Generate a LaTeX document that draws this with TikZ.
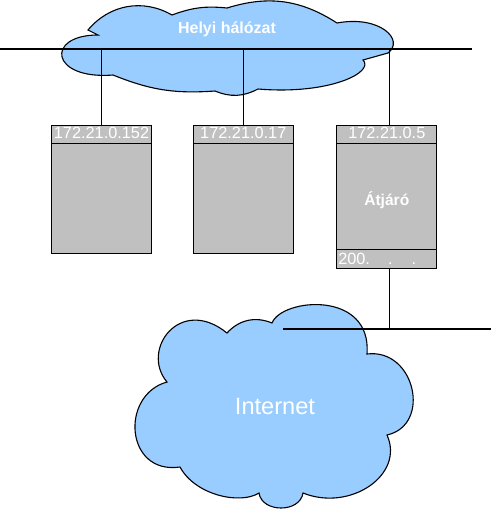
\documentclass[tikz,border=0pt]{standalone}
\usepackage{fontspec}
\setmainfont{Liberation Sans}
\usetikzlibrary{calc}
\definecolor{cloudblue}{HTML}{99CCFF}
\definecolor{boxgray}{HTML}{C0C0C0}
\begin{document}
\begin{tikzpicture}[x=1pt, y=-1pt, line width=1.1pt,
    host/.style = {draw, fill=boxgray, minimum width=100pt, inner sep=0pt},
    ip/.style = {text=white, inner sep=0pt, font=\fontsize{16.3}{17}\selectfont},
    netcloud/.style = {draw, fill=cloudblue}]
  \useasboundingbox (0,0) rectangle (494,512);
  % local network
  \draw[netcloud] (88,30) to[bend left=40] (172,15) to[bend left=13] (227,8)
    to[bend left=25] (337,23) .. controls (380,15) and (405,40) .. (388,53)
    -- (363,60) .. controls (375,72) and (330,95) .. (258,89)
    to[bend left=25] (215,91) to[bend left=13] (113,75)
    .. controls (50,80) and (45,35) .. (98,35) -- cycle;
  \node[ip, font=\fontsize{16}{16}\selectfont\bfseries] (lan) at (227,29) {Helyi hálózat};
  \coordinate (lanL) at (0,49);
  \coordinate (lanR) at (472,49);
  \draw (lanL) -- (lanR);
  % hosts
  \node[host, minimum height=128pt] (pc1) at (101.5,189.3) {};
  \node[host, minimum height=128pt] (pc2) at (243.3,189.3) {};
  \node[host, minimum height=143pt] (gw) at (386.8,196.8) {};
  \foreach \h in {pc1, pc2, gw}
    \draw (\h.north west) ++(0,18.4) -- ($(\h.north east)+(0,18.4)$);
  \draw ($(gw.south west)+(0,-19.3)$) -- ($(gw.south east)+(0,-19.3)$);
  \node[ip] (pc1ip) at ($(pc1.north)+(0,8.5)$) {172.21.0.152};
  \node[ip] (pc2ip) at ($(pc2.north)+(0,8.5)$) {172.21.0.17};
  \node[ip] (gwip) at ($(gw.north)+(0,8.5)$) {172.21.0.5};
  \node[ip, font=\fontsize{15.6}{16}\selectfont\bfseries] (gwname) at (386.8,200) {Átjáró};
  \node[ip, anchor=west] (gwout) at ($(gw.south west)+(1.5,-9.5)$) {200.\hspace{18pt}.\hspace{19pt}.};
  \coordinate (gwtop) at ($(gw.north)+(2.5,0)$);
  \coordinate (gwbot) at ($(gw.south)+(2.5,0)$);
  \foreach \h in {pc1.north, pc2.north, gwtop}
    \draw (\h) -- (\h |- lanL);
  % internet
  \draw[netcloud] (167,382) .. controls (140,350) and (180,295) .. (227,333)
    to[bend left=35] (272,323) .. controls (282,298) and (372,290) .. (367,354)
    .. controls (415,348) and (432,425) .. (387,435)
    .. controls (405,475) and (350,512) .. (303,493)
    .. controls (300,513) and (262,513) .. (259,493)
    .. controls (240,505) and (195,495) .. (180,467)
    .. controls (125,475) and (120,395) .. cycle;
  \node[ip, font=\fontsize{23.6}{24}\selectfont] (inet) at (275,406) {Internet};
  \coordinate (wanL) at (283,329);
  \coordinate (wanR) at (491,329);
  \draw (wanL) -- (wanR);
  \draw (gwbot) -- (gwbot |- wanL);
\end{tikzpicture}
\end{document}
